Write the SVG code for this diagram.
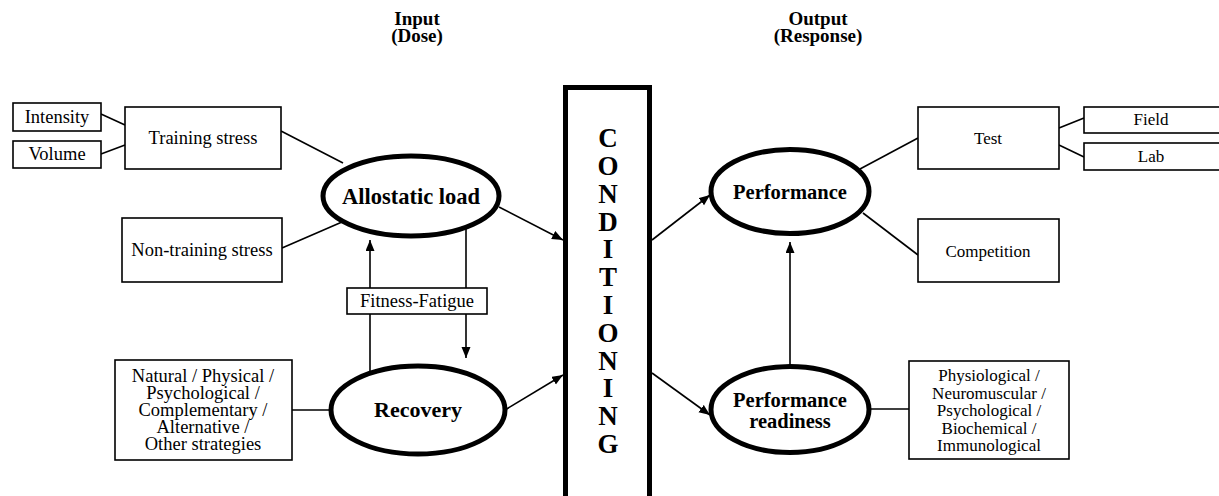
<svg xmlns="http://www.w3.org/2000/svg" width="1219" height="496" viewBox="0 0 1219 496">
<style>
.box{fill:#fff;stroke:#000;stroke-width:1.6}
.ell{fill:#fff;stroke:#000;stroke-width:5}
.ln{stroke:#000;stroke-width:1.6;fill:none}
.t{font-family:"Liberation Serif","Times New Roman",serif;font-size:18.5px;text-anchor:middle;fill:#000}
.tr{font-family:"Liberation Serif","Times New Roman",serif;font-size:17px;text-anchor:middle;fill:#000}
.b{font-family:"Liberation Serif","Times New Roman",serif;font-weight:bold;text-anchor:middle;fill:#000}
</style>
<defs>
<marker id="ah" markerUnits="userSpaceOnUse" markerWidth="12" markerHeight="10" refX="11" refY="4.5" orient="auto">
<path d="M0,0 L11,4.5 L0,9 Z" fill="#000"/>
</marker>
</defs>
<g id="headers">
<text class="b" x="417" y="25" font-size="19"><tspan x="417">Input</tspan><tspan x="417" dy="17">(Dose)</tspan></text>
<text class="b" x="818" y="25" font-size="19"><tspan x="818">Output</tspan><tspan x="818" dy="17">(Response)</tspan></text>
</g>
<g id="connectors">
<line class="ln" x1="101" y1="114" x2="125" y2="125"/>
<line class="ln" x1="101" y1="154" x2="125" y2="145"/>
<line class="ln" x1="281" y1="131" x2="343" y2="163"/>
<line class="ln" x1="282" y1="248" x2="342" y2="222"/>
<line class="ln" x1="370" y1="288" x2="370" y2="240" marker-end="url(#ah)"/>
<line class="ln" x1="370" y1="314" x2="370" y2="372"/>
<line class="ln" x1="466" y1="228" x2="466" y2="288"/>
<line class="ln" x1="466" y1="314" x2="466" y2="358" marker-end="url(#ah)"/>
<line class="ln" x1="292" y1="410" x2="330" y2="410"/>
<line class="ln" x1="499" y1="207" x2="563" y2="240" marker-end="url(#ah)"/>
<line class="ln" x1="505" y1="410" x2="563" y2="375" marker-end="url(#ah)"/>
<line class="ln" x1="652" y1="240" x2="710" y2="195" marker-end="url(#ah)"/>
<line class="ln" x1="652" y1="373" x2="710" y2="415" marker-end="url(#ah)"/>
<line class="ln" x1="790" y1="365" x2="790" y2="242" marker-end="url(#ah)"/>
<line class="ln" x1="860" y1="169" x2="918" y2="138"/>
<line class="ln" x1="863" y1="213" x2="918" y2="255"/>
<line class="ln" x1="1059" y1="128" x2="1084" y2="118"/>
<line class="ln" x1="1059" y1="145" x2="1084" y2="157"/>
<line class="ln" x1="870" y1="409" x2="909" y2="409"/>
</g>
<g id="intensity"><rect class="box" x="13" y="103" width="88" height="28"/><text class="t" x="57" y="123">Intensity</text></g>
<g id="volume"><rect class="box" x="13" y="141" width="88" height="27"/><text class="t" x="57" y="160">Volume</text></g>
<g id="training-stress"><rect class="box" x="125" y="107" width="156" height="62"/><text class="t" x="203" y="144">Training stress</text></g>
<g id="non-training-stress"><rect class="box" x="122" y="218" width="160" height="64"/><text class="t" x="202" y="256">Non-training stress</text></g>
<g id="allostatic-load"><ellipse class="ell" cx="411" cy="196" rx="88" ry="40"/><text class="b" x="411" y="204" font-size="22.5">Allostatic load</text></g>
<g id="fitness-fatigue"><rect class="box" x="347" y="288" width="140" height="26"/><text class="t" x="417" y="307">Fitness-Fatigue</text></g>
<g id="strategies"><rect class="box" x="115" y="360" width="177" height="100"/>
<text class="t" x="203" y="382"><tspan x="203">Natural / Physical /</tspan><tspan x="203" dy="17">Psychological /</tspan><tspan x="203" dy="17">Complementary /</tspan><tspan x="203" dy="17">Alternative /</tspan><tspan x="203" dy="17">Other strategies</tspan></text></g>
<g id="recovery"><ellipse class="ell" cx="418" cy="410" rx="87" ry="44"/><text class="b" x="418" y="417" font-size="22">Recovery</text></g>
<g id="conditioning"><rect x="565.5" y="87.5" width="84" height="420" fill="#fff" stroke="#000" stroke-width="5"/>
<text class="b" font-size="27" x="608" y="147"><tspan x="608">C</tspan><tspan x="608" dy="28">O</tspan><tspan x="608" dy="28">N</tspan><tspan x="608" dy="28">D</tspan><tspan x="608" dy="27">I</tspan><tspan x="608" dy="28">T</tspan><tspan x="608" dy="28">I</tspan><tspan x="608" dy="28">O</tspan><tspan x="608" dy="28">N</tspan><tspan x="608" dy="27">I</tspan><tspan x="608" dy="28">N</tspan><tspan x="608" dy="28">G</tspan></text></g>
<g id="performance"><ellipse class="ell" cx="790" cy="191.5" rx="79" ry="42"/><text class="b" x="790" y="199" font-size="20.5">Performance</text></g>
<g id="test"><rect class="box" x="918" y="107" width="141" height="62"/><text class="tr" x="988" y="144">Test</text></g>
<g id="field"><rect class="box" x="1084" y="107" width="140" height="26"/><text class="tr" x="1151" y="125">Field</text></g>
<g id="lab"><rect class="box" x="1084" y="143" width="140" height="27"/><text class="tr" x="1151" y="162">Lab</text></g>
<g id="competition"><rect class="box" x="918" y="219" width="141" height="63"/><text class="tr" x="988" y="257">Competition</text></g>
<g id="performance-readiness"><ellipse class="ell" cx="790" cy="409.5" rx="79" ry="43"/>
<text class="b" x="790" y="407" font-size="20.5"><tspan x="790">Performance</tspan><tspan x="790" dy="21">readiness</tspan></text></g>
<g id="markers-box"><rect class="box" x="909" y="361" width="160" height="98"/>
<text class="tr" x="989" y="381"><tspan x="989">Physiological /</tspan><tspan x="989" dy="17.5">Neuromuscular /</tspan><tspan x="989" dy="17.5">Psychological /</tspan><tspan x="989" dy="17.5">Biochemical /</tspan><tspan x="989" dy="17.5">Immunological</tspan></text></g>
</svg>
